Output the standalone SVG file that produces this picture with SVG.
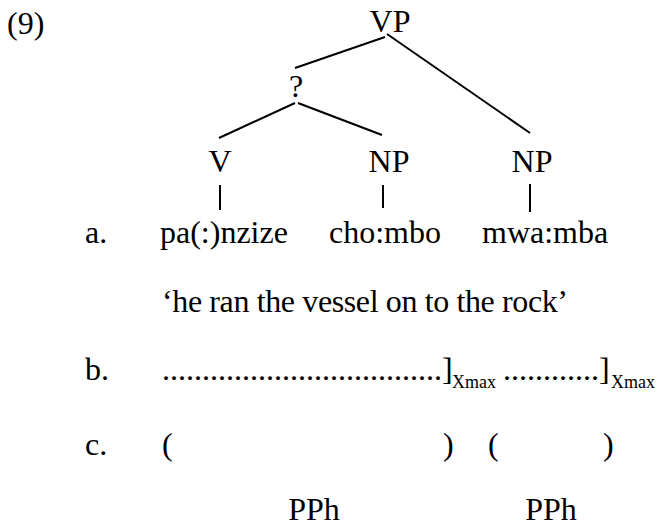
<svg xmlns="http://www.w3.org/2000/svg" width="659" height="532" viewBox="0 0 659 532">
  <style>
    text { font-family: "Liberation Serif", "Times New Roman", serif; font-size: 32px; fill: #000; }
    .mid { text-anchor: middle; }
    .sub { font-size: 18px; }
    .edge { stroke: #000; stroke-width: 2; fill: none; }
  </style>
  <rect width="659" height="532" fill="#fff"/>

  <text x="7" y="34">(9)</text>

  <g id="node-vp"><text class="mid" x="390" y="32">VP</text></g>
  <g id="node-q"><text class="mid" x="296" y="97">?</text></g>
  <g id="node-v"><text class="mid" x="220" y="172">V</text></g>
  <g id="node-np1"><text class="mid" x="389" y="172">NP</text></g>
  <g id="node-np2"><text class="mid" x="532" y="172">NP</text></g>

  <g id="connectors">
    <line class="edge" x1="385" y1="37" x2="295" y2="68"/>
    <line class="edge" x1="387" y1="34" x2="530" y2="133"/>
    <line class="edge" x1="295" y1="103" x2="219" y2="138"/>
    <line class="edge" x1="298" y1="103" x2="382" y2="135"/>
    <line class="edge" x1="220" y1="185" x2="220" y2="210"/>
    <line class="edge" x1="383" y1="185" x2="383" y2="208"/>
    <line class="edge" x1="530" y1="184" x2="530" y2="212"/>
  </g>

  <g id="words">
    <text x="85" y="243">a.</text>
    <text x="160" y="243">pa(:)nzize</text>
    <text x="329" y="243">cho:mbo</text>
    <text x="482" y="243">mwa:mba</text>
  </g>

  <text x="162" y="312" textLength="406" lengthAdjust="spacing">‘he ran the vessel on to the rock’</text>

  <g id="row-b">
    <text x="85" y="380">b.</text>
    <text x="162" y="380">...................................]</text>
    <text class="sub" x="452" y="388">Xmax</text>
    <text x="503" y="380">............]</text>
    <text class="sub" x="611" y="388">Xmax</text>
  </g>

  <g id="row-c">
    <text x="85" y="455">c.</text>
    <text x="162" y="455">(</text>
    <text x="443" y="455">)</text>
    <text x="488" y="455">(</text>
    <text x="603" y="455">)</text>
  </g>

  <g id="pph">
    <text class="mid" x="314" y="520">PPh</text>
    <text class="mid" x="551" y="520">PPh</text>
  </g>
</svg>
